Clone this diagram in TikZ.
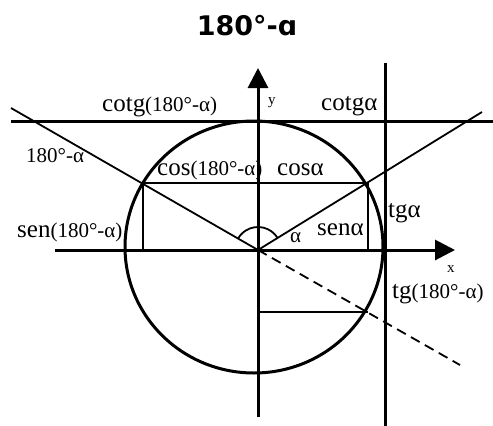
\documentclass[tikz,border=0pt]{standalone}
\usepackage{fontspec}
\setmainfont{Liberation Serif}
\newfontfamily\titlefont{DejaVu Sans}
\usetikzlibrary{arrows.meta}
\newcommand\LabBig{\fontsize{25}{27}\selectfont}
\newcommand\LabSmall{\fontsize{21}{23}\selectfont}
\begin{document}
\begin{tikzpicture}[x=1pt,y=-1pt,
  thickline/.style={line width=3pt},
  thinline/.style={line width=1.8pt},
  lab/.style={anchor=base west,inner sep=0pt,font=\LabBig},
  axisarrow/.style={-{Triangle[length=20pt,width=20pt]}}]
\useasboundingbox (0,0) rectangle (493,426);
% points
\coordinate (O) at (258,250);
\coordinate (P1) at (368,183);
\coordinate (P2) at (143,183);
\coordinate (A1) at (482,112);
\coordinate (A2) at (11,108);
\coordinate (D) at (460,365);
\coordinate (Q) at (368,312);
\coordinate (Qy) at (258,312);
\coordinate (S1) at (368,250);
\coordinate (S2) at (143,250);
\coordinate (Xs) at (55,250);
\coordinate (Xe) at (455,250);
\coordinate (Ys) at (258,417);
\coordinate (Ye) at (258,68);
\coordinate (Hs) at (11,121);
\coordinate (He) at (493,121);
\coordinate (Vs) at (385,63);
\coordinate (Ve) at (385,426);
% title
\node[font=\titlefont\bfseries\fontsize{27}{30}\selectfont,anchor=base,inner sep=0pt] (title) at (247,35) {180°-ɑ};
% circle
\draw[thickline] (254,247) ellipse [x radius=129,y radius=126];
% axes
\draw[thickline,axisarrow] (Xs) -- (Xe);
\draw[thickline,axisarrow] (Ys) -- (Ye);
% tangent lines
\draw[thickline] (Hs) -- (He);
\draw[thickline] (Vs) -- (Ve);
% angle lines
\draw[thinline] (O) -- (A1);
\draw[thinline] (O) -- (A2);
\draw[thinline,dash pattern=on 10pt off 6pt] (O) -- (D);
% projections
\draw[line width=2.4pt] (P2) -- (P1);
\draw[line width=2.4pt] (P2) -- (S2);
\draw[line width=2pt] (P1) -- (S1);
\draw[thinline] (Qy) -- (Q);
% angle arc
\draw[thinline] (O) ++(-31:23) arc[start angle=-31,end angle=-150,radius=23];
% labels
\node[lab] (l1) at (102,111) {cotg{\LabSmall(180°-α)}};
\node[lab,font=\fontsize{15}{17}\selectfont] (ly) at (268,104) {y};
\node[lab] (l2) at (321,110) {cotgα};
\node[lab,font=\LabSmall] (l3) at (26,162) {180°-α};
\node[lab] (l4) at (157,175) {cos{\LabSmall(180°-α)}};
\node[lab] (l5) at (277,175) {cosα};
\node[lab] (l6) at (17,237) {sen{\LabSmall(180°-α)}};
\node[lab] (l7) at (388,217) {tgα};
\node[lab] (l8) at (317,235) {senα};
\node[lab,font=\LabSmall] (l9) at (290,242) {α};
\node[lab,font=\fontsize{15}{17}\selectfont] (lx) at (447,272) {x};
\node[lab] (l10) at (392,298) {tg{\LabSmall(180°-α)}};
\end{tikzpicture}
\end{document}
